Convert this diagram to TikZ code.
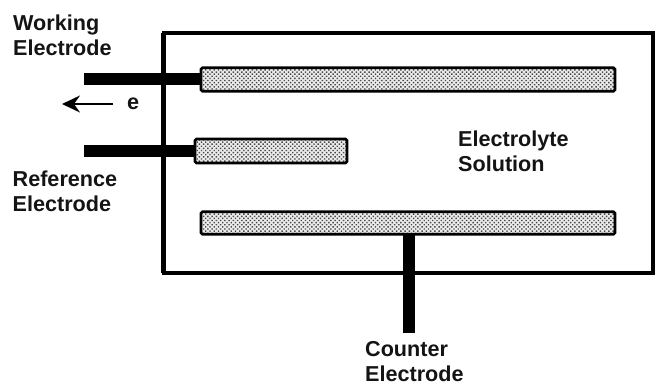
\documentclass[tikz,border=0pt]{standalone}
\usepackage{fontspec}
\setmainfont{Liberation Sans}
\usetikzlibrary{patterns.meta,arrows.meta}
\tikzset{
  x=1pt,y=-1pt,
  plate/.style={draw=black,line width=2.8pt,rounded corners=1.5pt,minimum height=#1,inner sep=0pt,outer sep=0pt,anchor=west,
    preaction={fill=black!8},preaction={pattern={Dots[distance=3pt,radius=1pt,angle=45]},pattern color=black!72}},
  lead/.style={line width=12pt,black},
  wall/.style={draw=black,line width=3.6pt},
  lab/.style={align=left,font=\fontsize{21.6}{24.7}\bfseries\selectfont,inner sep=0pt,text=black!92}
}
\begin{document}
\begin{tikzpicture}
\useasboundingbox (0,0) rectangle (655,386);
\node[wall,minimum width=489.5pt,minimum height=240pt,inner sep=0pt,outer sep=0pt,anchor=north west] (cell) at (163.5,33) {};
\draw[line width=5pt] (cell.north west) -- (cell.south west);
\coordinate (wout) at (84,78.5);
\coordinate (rout) at (84,150.5);
\coordinate (cout) at (408.5,333);
\node[plate=23.5pt,minimum width=414pt] (wplate) at (201,79.5) {};
\node[plate=24pt,minimum width=152pt] (rplate) at (195,151) {};
\node[plate=22.5pt,minimum width=414pt] (cplate) at (201,223) {};
\draw[lead] (wout) -- (wout -| wplate.west);
\draw[lead] (rout) -- (rout -| rplate.west);
\draw[lead] (cout) -- (cout |- cplate.south);
\coordinate (etail) at (113,104);
\coordinate (ehead) at (62,104);
\draw[line width=1.5pt,-{Stealth[length=18pt,width=17pt,inset=6pt]}] (etail) -- (ehead);
\node[lab,anchor=base west] (e) at (127,109) {e};
\node[lab,anchor=base west] (wl) at (13,55) {Working\\Electrode};
\node[lab,anchor=base west] (rl) at (12.5,211.5) {Reference\\Electrode};
\node[lab,anchor=base west] (sl) at (458,171) {Electrolyte\\Solution};
\node[lab,anchor=base west] (cl) at (365,381) {Counter\\Electrode};
\end{tikzpicture}
\end{document}
